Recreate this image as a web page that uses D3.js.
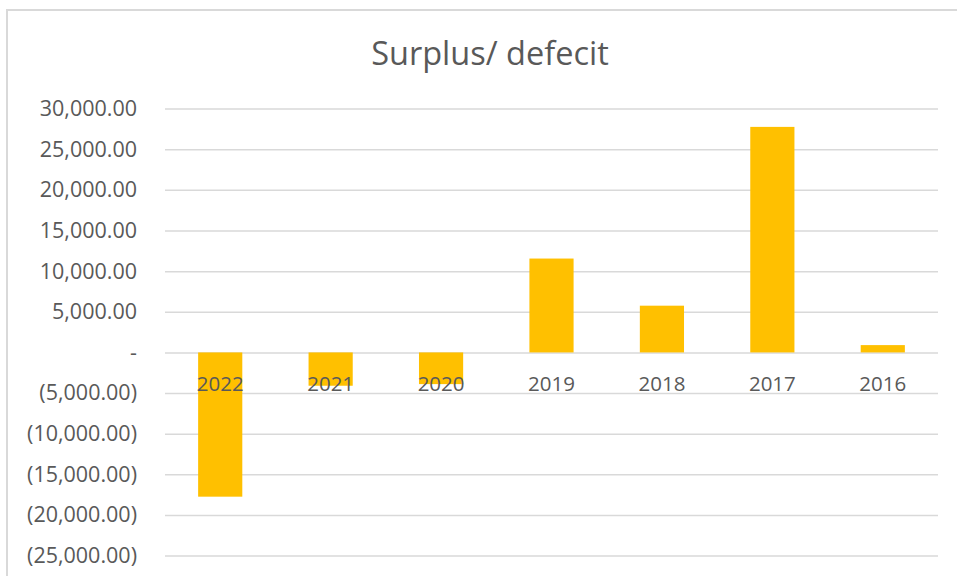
<!DOCTYPE html>
<html>
<head>
<meta charset="utf-8">
<script src="https://cdn.jsdelivr.net/npm/d3@7"></script>
<style>
  body { margin: 0; background: #fff; }
  text { font-family: "Open Sans", sans-serif; fill: #595959; }
</style>
</head>
<body>
<div id="chart"></div>
<script>
// values
var years = ["2022", "2021", "2020", "2019", "2018", "2017", "2016"];
var surplus = [-17750, -4100, -3900, 11550, 5750, 27750, 900];
var yTicks = [30000, 25000, 20000, 15000, 10000, 5000, 0, -5000, -10000, -15000, -20000, -25000];

var width = 957, height = 576;

var svg = d3.select("#chart").append("svg")
	.attr("width", width)
	.attr("height", height);

// chart area border
svg.append("rect")
	.attr("x", 7)
	.attr("y", 10)
	.attr("width", width + 10)
	.attr("height", height + 10)
	.attr("fill", "none")
	.attr("stroke", "#d9d9d9")
	.attr("stroke-width", 2);

svg.append("text")
	.attr("x", 490)
	.attr("y", 65)
	.attr("text-anchor", "middle")
	.style("font-size", "32.5px")
	.text("Surplus/ defecit");

var x = d3.scaleBand()
	.domain(years)
	.range([165, 938])
	.paddingInner(0.6)
	.paddingOuter(0.3);

var y = d3.scaleLinear()
	.domain([-25000, 30000])
	.range([555.6, 108.6]);

var fmt = d3.format(",.2f");
function tickLabel(v) {
	if (v == 0) return "-";
	if (v < 0) return "(" + fmt(-v) + ")";
	return fmt(v);
}

var grid = svg.append("g")
	.attr("transform", "translate(165,0)")
	.call(d3.axisLeft(y).tickValues(yTicks).tickSize(-(938 - 165)).tickFormat(""));
grid.select(".domain").remove();
grid.selectAll(".tick line").attr("stroke", "#d9d9d9").attr("stroke-width", 1.5);

var yAxis = svg.append("g")
	.attr("transform", "translate(137,0)")
	.call(d3.axisLeft(y).tickValues(yTicks).tickSize(0).tickPadding(0).tickFormat(tickLabel));
yAxis.select(".domain").remove();
yAxis.selectAll("text")
	.style("font-size", "21.5px")
	.style("font-family", "'Open Sans', sans-serif")
	.attr("fill", "#595959");

svg.append("g").selectAll("rect")
	.data(surplus)
	.enter()
	.append("rect")
	.attr("x", function(d, i) { return x(years[i]); })
	.attr("width", x.bandwidth())
	.attr("y", function(d) { return y(Math.max(0, d)); })
	.attr("height", function(d) { return Math.abs(y(d) - y(0)); })
	.attr("fill", "#ffc000");

svg.append("g").selectAll("text")
	.data(years)
	.enter()
	.append("text")
	.attr("x", function(d) { return x(d) + x.bandwidth() / 2; })
	.attr("y", 391)
	.attr("text-anchor", "middle")
	.style("font-size", "20.5px")
	.text(function(d) { return d; });
</script>
</body>
</html>
